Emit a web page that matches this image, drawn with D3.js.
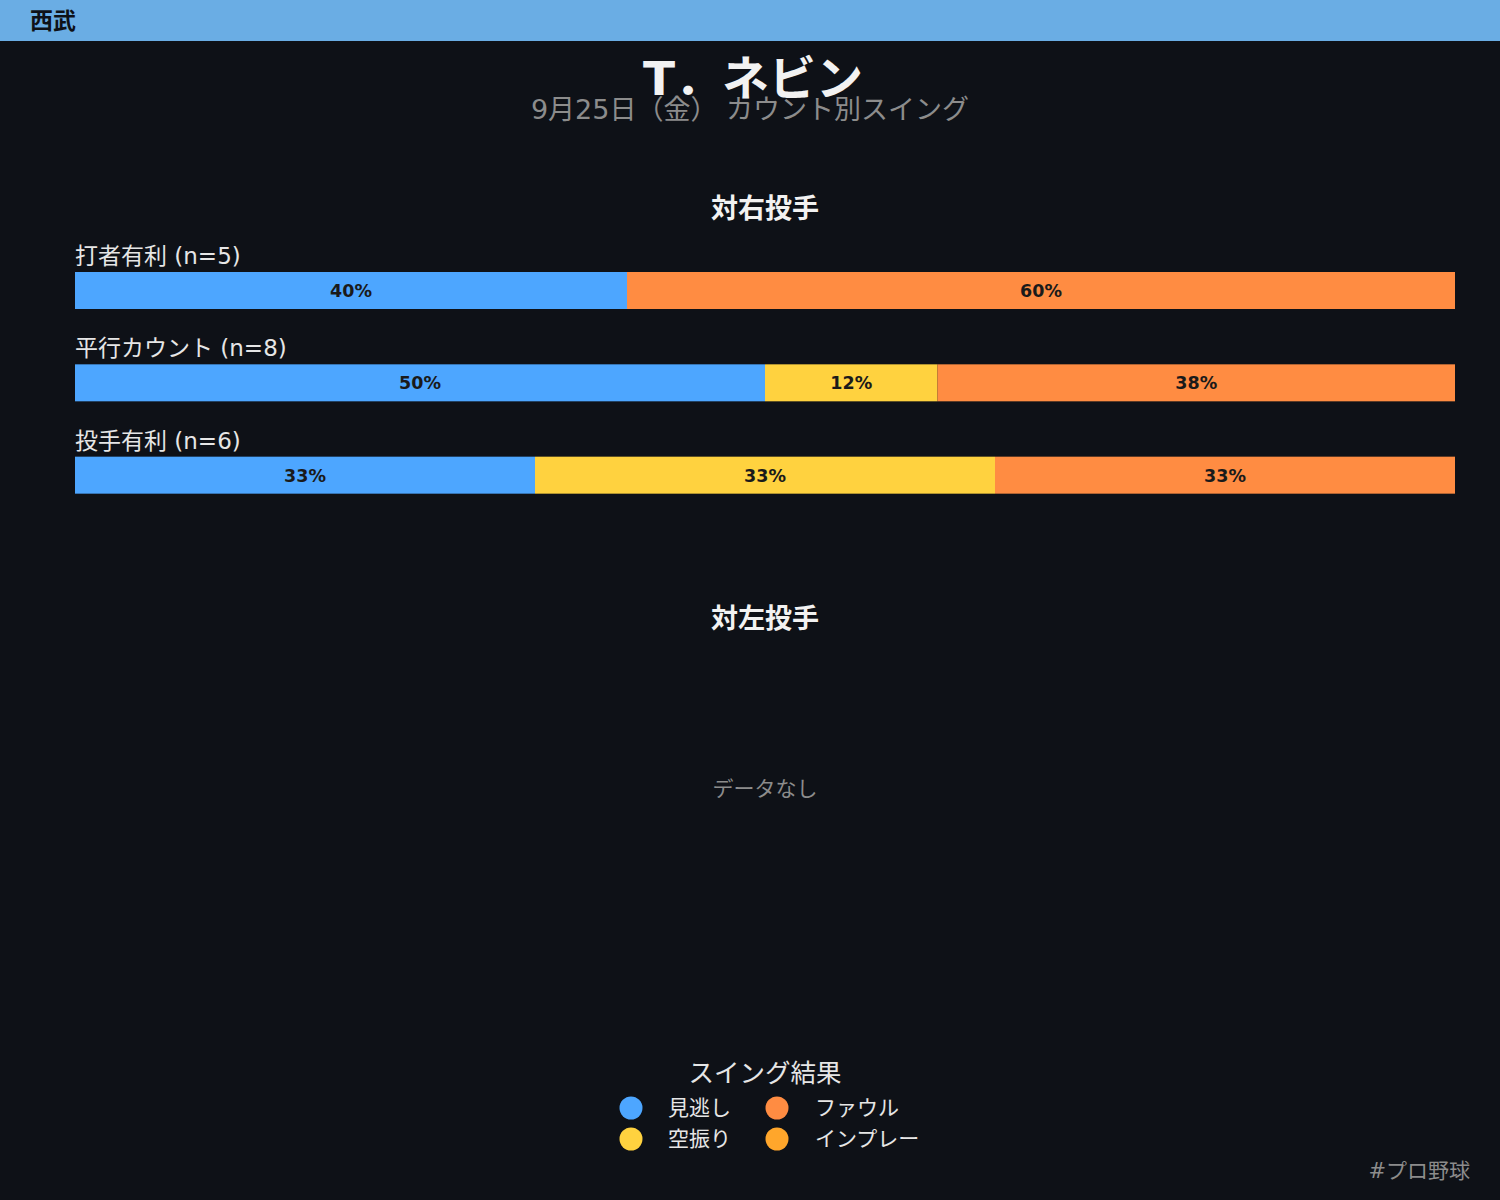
<!DOCTYPE html>
<html>
<head>
<meta charset="utf-8">
<script src="https://cdn.jsdelivr.net/npm/d3@7"></script>
<style>
  html, body { margin: 0; padding: 0; background: #0e1117; }
  svg { display: block; font-family: "DejaVu Sans", "Noto Sans CJK JP", sans-serif; }
</style>
</head>
<body>
<svg id="chart" width="1500" height="1200"></svg>
<script>
// data
var team = "西武";
var player = "T．ネビン";
var subtitle = "9月25日（金） カウント別スイング";
var results = ["見逃し", "空振り", "ファウル", "インプレー"];
var resultColors = ["#4da6ff", "#ffd23f", "#ff8c42", "#ffa62b"];
var countTypes = ["打者有利", "平行カウント", "投手有利"];
// counts per result (見逃し, 空振り, ファウル, インプレー) vs right-handed pitchers
var vsRight = [
    [2, 0, 3, 0],
    [4, 1, 3, 0],
    [2, 2, 2, 0]
];
var vsLeft = []; // no data

var W = 1500, H = 1200;
var svg = d3.select('#chart');

svg.append('rect').attr('width', W).attr('height', H).attr('fill', '#0e1117');

// header band
svg.append('rect').attr('width', W).attr('height', 41).attr('fill', '#6aade4');
svg.append('text').attr('x', 30).attr('y', 29)
    .attr('font-size', 23).attr('font-weight', 'bold').attr('fill', '#0e1117')
    .text(team);

// title
svg.append('text').attr('x', 753).attr('y', 95).attr('text-anchor', 'middle')
    .attr('font-size', 47).attr('font-weight', 'bold').attr('fill', '#f2f2f2')
    .text(player);
svg.append('text').attr('x', 750).attr('y', 119).attr('text-anchor', 'middle')
    .attr('font-size', 27).attr('fill', '#8c8c8c')
    .text(subtitle);

// round half to even like python
function roundEven(v) {
    var f = Math.floor(v), d = v - f;
    if (Math.abs(d - 0.5) < 1e-9) return (f % 2 === 0) ? f : f + 1;
    return Math.round(v);
}

var x = d3.scaleLinear().domain([0, 1]).range([75, 1455]);

function drawPanel(title, titleY, rows, top) {
    svg.append('text').attr('x', 765).attr('y', titleY).attr('text-anchor', 'middle')
        .attr('font-size', 27).attr('font-weight', 'bold').attr('fill', '#f2f2f2')
        .text(title);

    if (rows.length === 0) {
        svg.append('text').attr('x', 765).attr('y', titleY + 168).attr('text-anchor', 'middle')
            .attr('font-size', 21).attr('fill', '#8c8c8c')
            .text('データなし');
        return;
    }

    var y = d3.scaleBand().domain(countTypes).range([top, top + 277]).paddingInner(0);

    countTypes.forEach(function(ct, i) {
        var counts = rows[i];
        var n = d3.sum(counts);
        var g = svg.append('g');
        var rowY = y(ct);

        g.append('text').attr('x', 75).attr('y', rowY + 18)
            .attr('font-size', 23).attr('fill', '#e6e6e6')
            .text(ct + ' (n=' + n + ')');

        var acc = 0;
        var segs = counts.map(function(c, j) {
            var s = { start: acc / n, end: (acc + c) / n, c: c, j: j };
            acc += c;
            return s;
        }).filter(function(s) { return s.c > 0; });

        g.selectAll('rect.seg').data(segs).enter().append('rect')
            .attr('class', 'seg')
            .attr('x', function(d) { return x(d.start); })
            .attr('y', rowY + 26)
            .attr('width', function(d) { return x(d.end) - x(d.start); })
            .attr('height', 37)
            .attr('fill', function(d) { return resultColors[d.j]; });

        g.selectAll('text.pct').data(segs).enter().append('text')
            .attr('class', 'pct')
            .attr('x', function(d) { return (x(d.start) + x(d.end)) / 2; })
            .attr('y', rowY + 51)
            .attr('text-anchor', 'middle')
            .attr('font-size', 17.5).attr('font-weight', 'bold').attr('fill', '#1a1a1a')
            .text(function(d) { return roundEven(d.c / n * 100) + '%'; });
    });
}

drawPanel('対右投手', 218, vsRight, 246);
drawPanel('対左投手', 628, vsLeft, 656);

// legend
svg.append('text').attr('x', 765).attr('y', 1082).attr('text-anchor', 'middle')
    .attr('font-size', 25.5).attr('fill', '#e6e6e6')
    .text('スイング結果');

var legendItems = results.map(function(r, i) {
    return { name: r, color: resultColors[i], col: i < 2 ? 0 : 1, row: i % 2 };
});
var lg = svg.append('g');
lg.selectAll('circle').data(legendItems).enter().append('circle')
    .attr('cx', function(d) { return 631 + d.col * 146; })
    .attr('cy', function(d) { return 1108 + d.row * 31; })
    .attr('r', 11.5)
    .attr('fill', function(d) { return d.color; });
lg.selectAll('text').data(legendItems).enter().append('text')
    .attr('x', function(d) { return 668 + d.col * 147; })
    .attr('y', function(d) { return 1115 + d.row * 31; })
    .attr('font-size', 21).attr('fill', '#e6e6e6')
    .text(function(d) { return d.name; });

// footer
svg.append('text').attr('x', 1470).attr('y', 1178).attr('text-anchor', 'end')
    .attr('font-size', 21).attr('fill', '#8c8c8c')
    .text('#プロ野球');
</script>
</body>
</html>
